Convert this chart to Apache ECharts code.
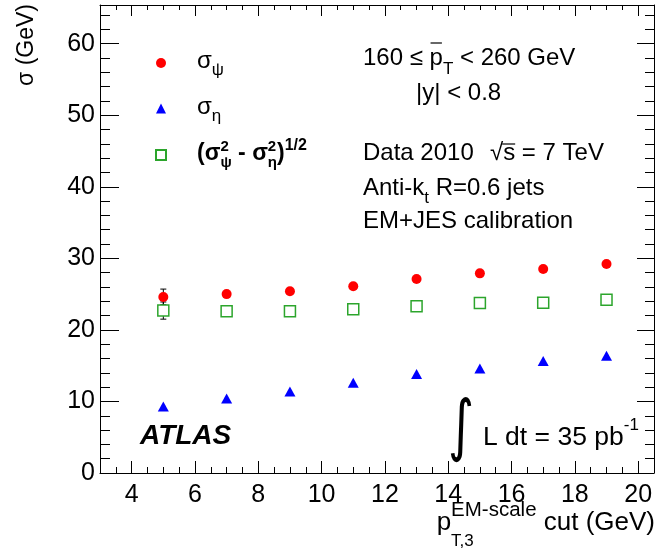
<!DOCTYPE html>
<html><head><meta charset="utf-8">
<script src="https://cdn.jsdelivr.net/npm/echarts@6/dist/echarts.min.js"></script>
<style>html,body{margin:0;padding:0;background:#fff}#c{width:657px;height:551px}</style>
</head><body><div id="c"></div>
<script>
// ---- data ----
const ptCut = [5, 7, 9, 11, 13, 15, 17, 19];
const sigmaPsi = [24.6, 25.0, 25.4, 26.1, 27.1, 27.9, 28.5, 29.2];
const sigmaPsiErr = [1.1, 0.3, 0.3, 0.3, 0.3, 0.3, 0.3, 0.3];
const sigmaEta = [9.3, 10.4, 11.4, 12.6, 13.85, 14.6, 15.65, 16.4];
const sigmaEtaErr = [0.2, 0.2, 0.2, 0.2, 0.2, 0.2, 0.2, 0.2];
const sigmaDiff = [22.7, 22.6, 22.6, 22.9, 23.3, 23.75, 23.8, 24.2];
const sigmaDiffErr = [1.2, 0.3, 0.3, 0.3, 0.3, 0.3, 0.3, 0.3];
const xMajorTicks = [4, 6, 8, 10, 12, 14, 16, 18, 20];
const xMinorTicks = [3.5, 4.5, 5, 5.5, 6.5, 7, 7.5, 8.5, 9, 9.5, 10.5, 11, 11.5, 12.5, 13, 13.5, 14.5, 15, 15.5, 16.5, 17, 17.5, 18.5, 19, 19.5];
const yMajorTicks = [0, 10, 20, 30, 40, 50, 60];
const yMinorTicks = [2, 4, 6, 8, 12, 14, 16, 18, 22, 24, 26, 28, 32, 34, 36, 38, 42, 44, 46, 48, 52, 54, 56, 58, 62, 64];
const xRange = [3, 20.5];
const yRange = [0, 65.4];

// ---- helpers ----
const FF = '"Liberation Sans", Arial, Helvetica, sans-serif';
const mctx = document.createElement('canvas').getContext('2d');
function tw(t, fs, b, i) {
  mctx.font = (i ? 'italic ' : '') + (b ? 'bold ' : '') + fs + 'px ' + FF;
  return mctx.measureText(t).width;
}
function txt(x, base, t, fs, b, i, extra) {
  return Object.assign({
    type: 'text', x: x, y: base - 0.3465 * fs, silent: true,
    style: { text: t, font: (i ? 'italic ' : '') + (b ? 'bold ' : '') + fs + 'px ' + FF,
      fill: '#000', align: 'left', verticalAlign: 'middle' }
  }, extra || {});
}
function run(x, base, parts, alignRight) {
  let total = 0;
  parts.forEach(p => {
    if (p.stack) p.w = Math.max(tw(p.sup, p.fs, p.b), tw(p.sub, p.subFs || p.fs, p.b));
    else p.w = tw(p.t, p.fs, p.b, p.i);
    total += p.w;
  });
  let cx = alignRight ? x - total : x;
  const els = [];
  parts.forEach(p => {
    if (p.stack) {
      els.push(txt(cx, base + p.supDy, p.sup, p.fs, p.b));
      els.push(txt(cx, base + p.subDy, p.sub, p.subFs || p.fs, p.b));
    } else {
      els.push(txt(cx, base + (p.dy || 0), p.t, p.fs, p.b, p.i));
    }
    p.x0 = cx;
    cx += p.w;
  });
  return els;
}
function hline(x1, x2, y) {
  return { type: 'line', silent: true, shape: { x1: x1, y1: y, x2: x2, y2: y }, style: { stroke: '#000', lineWidth: 1.2 } };
}

const graphics = [];
// y title
graphics.push({ type: 'text', x: 27, y: 4, rotation: Math.PI / 2, silent: true,
  style: { text: 'σ (GeV)', font: '23px ' + FF, fill: '#000', align: 'right', verticalAlign: 'middle' } });
// x title
graphics.push(...run(655, 532, [
  { t: 'p', fs: 26 },
  { stack: true, sup: 'EM-scale', sub: 'T,3', fs: 20.5, subFs: 17, supDy: -15, subDy: 15 },
  { t: ' cut (GeV)', fs: 26 }
], true));
// legend labels
graphics.push(...run(197, 70, [{ t: 'σ', fs: 24 }, { t: 'ψ', fs: 17, dy: 6 }]));
graphics.push(...run(197, 116, [{ t: 'σ', fs: 24 }, { t: 'η', fs: 17, dy: 6 }]));
graphics.push(...run(197, 162, [
  { t: '(σ', fs: 23, b: true },
  { stack: true, sup: '2', sub: 'ψ', fs: 15, b: true, supDy: -10, subDy: 6 },
  { t: ' - σ', fs: 23, b: true },
  { stack: true, sup: '2', sub: 'η', fs: 15, b: true, supDy: -10, subDy: 6 },
  { t: ')', fs: 23, b: true },
  { t: '1/2', fs: 16, b: true, dy: -11 }
]));
// annotations
const ptParts = [{ t: '160 ≤ ', fs: 24 }, { t: 'p', fs: 24 }, { t: 'T', fs: 17, dy: 8 }, { t: ' < 260 GeV', fs: 24 }];
graphics.push(...run(363, 67, ptParts));
graphics.push(hline(ptParts[1].x0 + 1, ptParts[1].x0 + ptParts[1].w - 1, 43));
graphics.push(txt(416, 102, '|y| < 0.8', 24));
graphics.push(txt(363, 162, 'Data 2010', 24));
const sqParts = [{ t: '√', fs: 24 }, { t: 's', fs: 24 }, { t: ' = 7 TeV', fs: 24 }];
graphics.push(...run(490, 162, sqParts));
graphics.push(hline(sqParts[1].x0 - 1, sqParts[1].x0 + sqParts[1].w, 144));
graphics.push(...run(363, 197, [{ t: 'Anti-k', fs: 24 }, { t: 't', fs: 17, dy: 7 }, { t: ' R=0.6 jets', fs: 24 }]));
graphics.push(txt(363, 230, 'EM+JES calibration', 24));
// ATLAS
graphics.push(txt(140, 446, 'ATLAS', 28, true, true));
// integral luminosity
graphics.push({ type: 'text', x: 461, y: 430, silent: true, scaleY: 1.35,
  style: { text: '∫', font: '50px "DejaVu Sans", ' + FF, fill: '#000', align: 'center', verticalAlign: 'middle' } });
graphics.push(...run(483, 447, [{ t: 'L dt = 35 pb', fs: 26.5 }, { t: '-1', fs: 17, dy: -16 }]));

// ---- axes ----
function xAx(pos, ticks, len, labels, line) {
  return {
    type: 'value', gridIndex: 0, position: pos, min: xRange[0], max: xRange[1],
    axisLine: { show: line, onZero: false, lineStyle: { color: '#000', width: 1 } },
    axisTick: { show: true, inside: true, length: len, customValues: ticks, lineStyle: { color: '#000', width: 1 } },
    axisLabel: labels ? { customValues: ticks, fontSize: 25, fontFamily: FF, color: '#000', margin: 10 } : { show: false },
    splitLine: { show: false }
  };
}
function yAx(pos, ticks, len, labels, line) {
  return {
    type: 'value', gridIndex: 0, position: pos, min: yRange[0], max: yRange[1],
    axisLine: { show: line, onZero: false, lineStyle: { color: '#000', width: 1 } },
    axisTick: { show: true, inside: true, length: len, customValues: ticks, lineStyle: { color: '#000', width: 1 } },
    axisLabel: labels ? { customValues: ticks, fontSize: 25, fontFamily: FF, color: '#000', margin: 5 } : { show: false },
    splitLine: { show: false }
  };
}

function errSeries(vals, errs) {
  return {
    type: 'custom', xAxisIndex: 0, yAxisIndex: 0, z: 1, silent: true,
    data: ptCut.map((x, i) => [x, vals[i], errs[i]]),
    renderItem: function (params, api) {
      const x = api.value(0), y = api.value(1), e = api.value(2);
      const top = api.coord([x, y + e]);
      const bot = api.coord([x, y - e]);
      if (bot[1] - top[1] < 12) return null; // bar hidden inside marker
      const st = { stroke: '#000', lineWidth: 1 };
      return { type: 'group', children: [
        { type: 'line', shape: { x1: top[0], y1: top[1], x2: bot[0], y2: bot[1] }, style: st },
        { type: 'line', shape: { x1: top[0] - 3, y1: top[1], x2: top[0] + 3, y2: top[1] }, style: st },
        { type: 'line', shape: { x1: bot[0] - 3, y1: bot[1], x2: bot[0] + 3, y2: bot[1] }, style: st }
      ] };
    }
  };
}

const option = {
  animation: false,
  backgroundColor: '#fff',
  grid: { left: 100, right: 3, top: 5, bottom: 78, containLabel: false },
  xAxis: [
    xAx('bottom', xMajorTicks, 12, true, true),
    xAx('bottom', xMinorTicks, 6, false, false),
    xAx('top', xMajorTicks, 11, false, true),
    xAx('top', xMinorTicks, 5, false, false)
  ],
  yAxis: [
    yAx('left', yMajorTicks, 19, true, true),
    yAx('left', yMinorTicks, 10, false, false),
    yAx('right', yMajorTicks, 17, false, true),
    yAx('right', yMinorTicks, 9, false, false)
  ],
  legend: {
    orient: 'vertical', left: 155, top: 58, padding: 0, itemWidth: 10, itemHeight: 10, itemGap: 35.5,
    selectedMode: false, formatter: function () { return ''; },
    textStyle: { fontSize: 10, lineHeight: 10 },
    data: ['sigma_psi', 'sigma_eta', 'sigma_diff']
  },
  series: [
    errSeries(sigmaPsi, sigmaPsiErr),
    errSeries(sigmaDiff, sigmaDiffErr),
    errSeries(sigmaEta, sigmaEtaErr),
    { name: 'sigma_psi', type: 'scatter', z: 3, symbol: 'circle', symbolSize: 10,
      itemStyle: { color: '#ff0000', opacity: 1 },
      data: ptCut.map((x, i) => [x, sigmaPsi[i]]) },
    { name: 'sigma_eta', type: 'scatter', z: 3, symbol: 'triangle', symbolSize: [11, 10],
      itemStyle: { color: '#0000ff', opacity: 1 },
      data: ptCut.map((x, i) => [x, sigmaEta[i]]) },
    { name: 'sigma_diff', type: 'scatter', z: 3, symbol: 'rect', symbolSize: 11,
      itemStyle: { color: '#ffffff', borderColor: '#2ca52c', borderWidth: 1.5, opacity: 1 },
      data: ptCut.map((x, i) => [x, sigmaDiff[i]]) }
  ],
  graphic: graphics
};

const chart = echarts.init(document.getElementById('c'), null, { renderer: 'canvas' });
chart.setOption(option);
</script>
</body></html>
